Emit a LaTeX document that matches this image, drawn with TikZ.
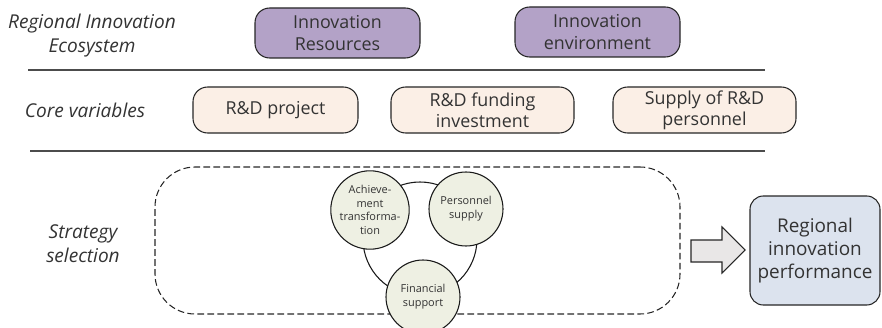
\documentclass[tikz,border=0pt]{standalone}
\usepackage{fontspec}
\setmainfont{Open Sans}
\begin{document}
\begin{tikzpicture}[x=0.75pt,y=-0.75pt,
  lbl/.style={font=\itshape\fontsize{14.3pt}{18pt}\selectfont, text=black!80, align=center},
  boxtxt/.style={font=\fontsize{13.4pt}{16pt}\selectfont, text=black!80, align=center},
  purplebox/.style={boxtxt, draw=black!85, line width=0.8pt, fill=purpleF, rounded corners=11pt, minimum width=123.75pt, minimum height=37.5pt, inner sep=0pt},
  peachbox/.style={boxtxt, draw=black!85, line width=0.8pt, fill=peachF, rounded corners=11pt, minimum height=34.5pt, inner sep=0pt},
  circ/.style={circle, draw=black!90, line width=0.8pt, fill=circF, minimum size=55.5pt, inner sep=0pt, align=center, font=\fontsize{8.2pt}{10.3pt}\selectfont, text=black!80},
  sep/.style={draw=black!70, line width=1.2pt}
]
\definecolor{purpleF}{HTML}{B3A2C7}
\definecolor{peachF}{HTML}{FBEFE6}
\definecolor{circF}{HTML}{EEF0E3}
\definecolor{blueF}{HTML}{DCE3EE}
\definecolor{arrowF}{HTML}{E9E7E7}
\useasboundingbox (0,0) rectangle (882,328);

% row labels
\node[lbl] (l1) at (92,36) {Regional Innovation\\Ecosystem};
\node[lbl] (l2) at (85,110) {Core variables};
\node[lbl] (l3) at (83,244) {Strategy\\selection};

% row 1
\node[purplebox] (ir) at (337.5,33) {Innovation\\Resources};
\node[purplebox] (ie) at (597.5,32) {Innovation\\environment};

% separators
\coordinate (s1a) at (28,70); \coordinate (s1b) at (765,70);
\coordinate (s2a) at (30,151); \coordinate (s2b) at (765,151);
\draw[sep] (s1a) -- (s1b);
\draw[sep] (s2a) -- (s2b);

% row 2
\node[peachbox, minimum width=123.75pt] (rd) at (275.5,110) {R\&D project};
\node[peachbox, minimum width=137.25pt] (rf) at (482.5,110) {R\&D funding\\investment};
\node[peachbox, minimum width=137.25pt] (sp) at (704.5,110) {Supply of R\&D\\personnel};

% strategy area
\node[draw=black!85, dash pattern=on 5pt off 2.5pt, line width=0.8pt, rounded corners=30pt, minimum width=393.75pt, minimum height=110.25pt] (strat) at (417.5,240.5) {};
\coordinate (bigc) at (420,239);
\draw[black!90, line width=0.8pt] (bigc) circle [radius=42.75pt];
\node[circ] (ach) at (370,210) {Achieve-\\ment\\transforma-\\tion};
\node[circ] (per) at (466,209) {Personnel\\supply};
\node[circ] (fin) at (423,297) {Financial\\support};

% block arrow
\draw[draw=black!85, line width=0.8pt, fill=arrowF, line join=miter]
  (691,240) -- (722,240) -- (722,227) -- (745,250) -- (722,273) -- (722,262) -- (691,262) -- cycle;

% result
\node[boxtxt, font=\fontsize{14.2pt}{17.5pt}\selectfont, draw=black!85, line width=0.8pt, fill=blueF, rounded corners=10pt, minimum width=97.5pt, minimum height=81.75pt, inner sep=0pt] (rip) at (815,250.5) {Regional\\innovation\\performance};
\end{tikzpicture}
\end{document}
